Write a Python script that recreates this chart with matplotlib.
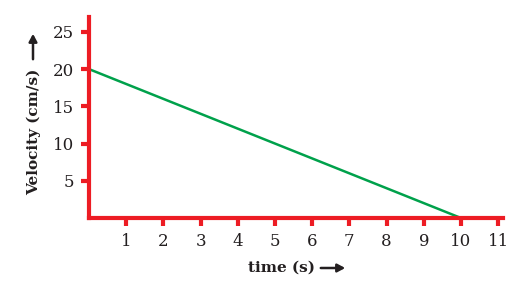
import matplotlib
matplotlib.use('Agg')
import matplotlib.pyplot as plt

# data
time_s = [0, 10]
velocity = [20, 0]
x_ticks = [1, 2, 3, 4, 5, 6, 7, 8, 9, 10, 11]
y_ticks = [5, 10, 15, 20, 25]

red = '#ED1C24'
green = '#00A14B'

plt.rcParams['font.family'] = ['DejaVu Serif']

fig = plt.figure(figsize=(5.22, 3.03), dpi=100)
ax = fig.add_axes([89 / 522, 1 - 218 / 303, 414 / 522, 201 / 303])

ax.plot(time_s, velocity, color=green, lw=1.8, solid_capstyle='butt', clip_on=False)

ax.set_xlim(0, 11.13)
ax.set_ylim(0, 27)
ax.set_xticks(x_ticks)
ax.set_yticks(y_ticks)
ax.tick_params(axis='both', direction='out', length=6, width=3, color=red,
               labelsize=12, labelcolor='#231F20')
ax.tick_params(axis='x', pad=5)
ax.tick_params(axis='y', pad=5)

for s in ['top', 'right']:
    ax.spines[s].set_visible(False)
for s in ['left', 'bottom']:
    ax.spines[s].set_color(red)
    ax.spines[s].set_linewidth(3)

# axis labels with arrows, as in the figure
fig.text(34 / 522, 1 - 132 / 303, 'Velocity (cm/s)', rotation=90, ha='center', va='center',
         fontsize=11, fontweight='bold', color='#231F20')
fig.text(281 / 522, 1 - 268 / 303, 'time (s)', ha='center', va='center',
         fontsize=11, fontweight='bold', color='#231F20')
fig.add_artist(matplotlib.patches.FancyArrowPatch(
    (33 / 522, 1 - 62 / 303), (33 / 522, 1 - 31 / 303), transform=fig.transFigure,
    arrowstyle='-|>,head_length=3,head_width=1.6', mutation_scale=1.5, lw=1.8, color='#231F20'))
fig.add_artist(matplotlib.patches.FancyArrowPatch(
    (318 / 522, 1 - 268 / 303), (348 / 522, 1 - 268 / 303), transform=fig.transFigure,
    arrowstyle='-|>,head_length=3,head_width=1.6', mutation_scale=1.5, lw=1.8, color='#231F20'))

fig.savefig('out.png', dpi=100)
